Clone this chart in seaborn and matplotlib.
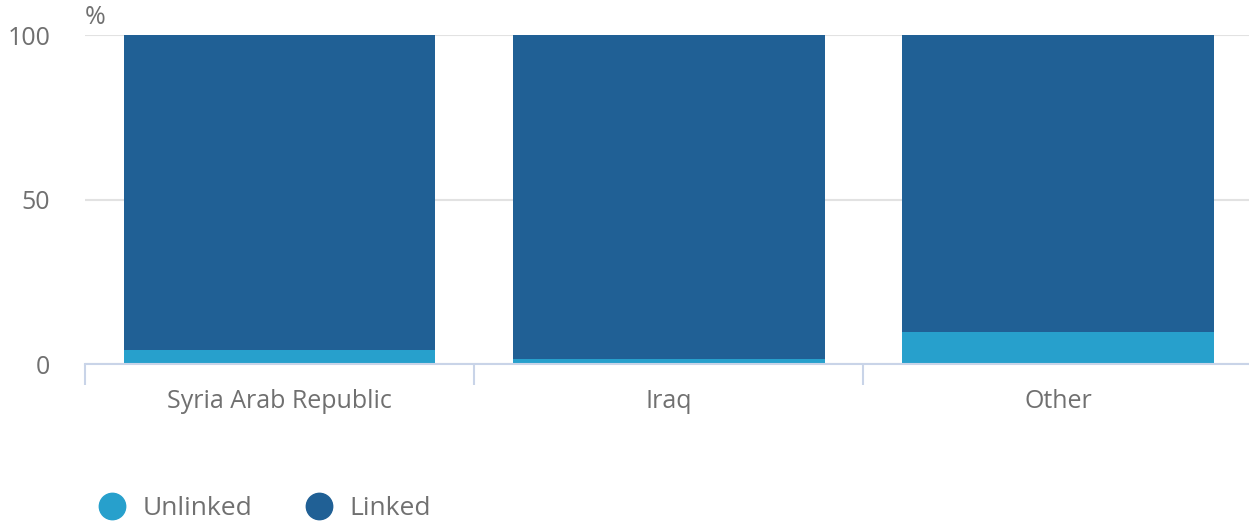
import matplotlib
matplotlib.use('Agg')
import matplotlib.pyplot as plt
from matplotlib.lines import Line2D
import seaborn as sns
import pandas as pd

countries = ['Syria Arab Republic', 'Iraq', 'Other']
unlinked = [4.2, 1.5, 9.7]
linked = [95.8, 98.5, 90.3]

dark = '#206095'
light = '#27a0cc'
grey_text = '#707070'
axis_col = '#c9d4e8'

sns.set_style('white')
plt.rcParams['font.family'] = ['Open Sans', 'DejaVu Sans']

df = pd.DataFrame({'country': countries, 'Unlinked': unlinked, 'Linked': linked})
df['total'] = df['Unlinked'] + df['Linked']

fig = plt.figure(figsize=(12.49, 5.24), dpi=100)
ax = fig.add_axes([0.068, 0.305, 0.935, 0.628])

sns.barplot(x='country', y='total', data=df, color=dark, width=0.8,
            saturation=1, ax=ax, zorder=3, linewidth=0, edgecolor='none')
sns.barplot(x='country', y='Unlinked', data=df, color=light, width=0.8,
            saturation=1, ax=ax, zorder=3, linewidth=0, edgecolor='none')

ax.set_xlim(-0.5, 2.5)
ax.set_ylim(0, 100)
ax.set_yticks([0, 50, 100])
ax.set_xlabel('')
ax.set_ylabel('')

ax.yaxis.grid(True, color='#e2e2e2', linewidth=1.5, zorder=0)
for s in ['top', 'right', 'left']:
    ax.spines[s].set_visible(False)
ax.spines['bottom'].set_color(axis_col)
ax.spines['bottom'].set_linewidth(1.5)
ax.spines['bottom'].set_zorder(4)

ax.tick_params(axis='y', length=0, pad=25, labelsize=18, labelcolor=grey_text)
ax.tick_params(axis='x', which='major', length=0, pad=18, labelsize=18,
               labelcolor=grey_text)
ax.set_xticks([-0.5, 0.5, 1.5], minor=True)
ax.tick_params(axis='x', which='minor', bottom=True, length=15, width=1.5,
               color=axis_col, direction='out')

ax.text(0, 1.015, '%', transform=ax.transAxes, fontsize=18, color=grey_text,
        ha='left', va='bottom')

handles = [Line2D([], [], marker='o', linestyle='', markersize=19,
                  markerfacecolor=light, markeredgecolor=light),
           Line2D([], [], marker='o', linestyle='', markersize=19,
                  markerfacecolor=dark, markeredgecolor=dark)]
leg = fig.legend(handles, ['Unlinked', 'Linked'], loc='center left',
                 bbox_to_anchor=(0.079, 0.03), ncol=2, frameon=False,
                 fontsize=19, handletextpad=0.68, columnspacing=2.0,
                 handlelength=1.0, borderpad=0, borderaxespad=0)
for t in leg.get_texts():
    t.set_color(grey_text)

plt.savefig('out.png', dpi=100)
